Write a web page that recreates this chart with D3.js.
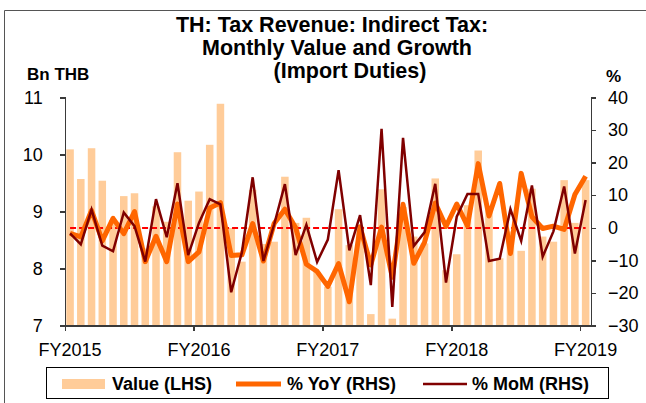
<!DOCTYPE html>
<meta charset="utf-8">
<head>
<title>TH Import Duties</title>
<script src="https://d3js.org/d3.v7.min.js"></script>
<style>
  body { margin: 0; background: #fff; }
  svg text { font-family: "Liberation Sans", Arial, sans-serif; fill: #000; }
  .axis path, .axis line { stroke: #3a3a3a; stroke-width: 1.3; shape-rendering: crispEdges; }
</style>
</head>
<body>
<div id="chart"></div>
<script>

// fiscal year labels (each tick = first month of FY)
var fyLabels = ["FY2015", "FY2016", "FY2017", "FY2018", "FY2019"];

// monthly value, Bn THB (Oct 2014 .. Oct 2018)
var valueLHS = [10.09, 9.57, 10.11, 9.54, 8.85, 9.27, 9.32, 8.35, 9.09, 8.82, 10.04, 9.19,
                9.35, 10.17, 10.89, 8.71, 8.12, 9.38, 8.43, 8.47, 9.61, 8.80, 8.89, 7.94,
                7.68, 9.04, 8.41, 8.74, 7.20, 9.39, 7.12, 9.08, 8.56, 8.44, 9.58, 7.97,
                8.25, 9.11, 10.07, 9.04, 8.18, 8.65, 8.31, 9.40, 8.56, 8.47, 9.55, 8.80, 9.55];

// % YoY
var yoyRHS = [-1.7, -2.8, 5.3, -4.0, 2.9, -1.8, 5.0, -10.4, -2.6, -10.4, 7.3, -10.4,
              -7.4, 6.1, 7.7, -8.5, -8.3, 1.3, -10.2, 1.3, 5.7, 0.0, -11.2, -13.4,
              -18.0, -11.0, -22.7, 0.3, -11.4, 0.2, -15.2, 7.2, -10.9, -4.5, 7.6, 0.4,
              7.3, 0.6, 19.7, 3.6, 13.6, -7.9, 16.7, 3.4, -0.2, 0.5, -0.5, 10.2, 15.8];

// % MoM
var momRHS = [-1.7, -5.1, 5.6, -5.5, -7.2, 4.7, 0.5, -10.4, 8.8, -2.9, 13.7, -8.4,
              1.5, 8.8, 7.2, -19.8, -7.5, 15.5, -10.2, 1.0, 13.4, -8.4, 0.9, -10.5,
              -3.6, 17.7, -6.9, 3.9, -17.6, 30.4, -24.3, 27.6, -5.6, -1.4, 13.5, -16.8,
              3.4, 10.4, 10.4, -10.2, -9.5, 5.7, -4.0, 13.0, -8.9, -1.1, 12.7, -7.9, 8.5];

var leftTicks = [7, 8, 9, 10, 11];
var rightTicks = [-30, -20, -10, 0, 10, 20, 30, 40];

var W = 646, H = 403;
var plotL = 64.7, plotR = 591, plotT = 97.5, plotB = 325.5;

var svg = d3.select("#chart").append("svg")
    .attr("width", W)
    .attr("height", H);

// outer frame (only top and left edges are inside the picture)
svg.append("path")
    .attr("d", "M4.5," + H + "V10.5H" + W)
    .attr("fill", "none")
    .attr("stroke", "#555")
    .attr("stroke-width", 1);

var months = d3.range(valueLHS.length);

var x = d3.scaleBand()
    .domain(months)
    .range([plotL, plotR])
    .paddingInner(0.3)
    .paddingOuter(0.15);

// continuous helper for the FY tick marks (band edges)
var xEdge = d3.scaleLinear().domain([0, months.length]).range([plotL, plotR]);

var yL = d3.scaleLinear().domain([7, 11]).range([plotB, plotT]);
var yR = d3.scaleLinear().domain([-30, 40]).range([plotB, plotT]);

// bars
svg.append("g").selectAll("rect")
    .data(valueLHS)
    .enter().append("rect")
      .attr("x", function(d, i) { return x(i); })
      .attr("y", function(d) { return yL(d); })
      .attr("width", x.bandwidth())
      .attr("height", function(d) { return plotB - yL(d); })
      .attr("fill", "#ffcc99");

function cx(i) { return x(i) + x.bandwidth() / 2; }

// zero line
svg.append("line")
    .attr("x1", cx(0)).attr("x2", cx(months.length - 1))
    .attr("y1", Math.round(yR(0))).attr("y2", Math.round(yR(0)))
    .attr("stroke", "#ff0000")
    .attr("stroke-width", 2)
    .attr("stroke-dasharray", "6,3");

var line = d3.line()
    .x(function(d, i) { return cx(i); })
    .y(function(d) { return yR(d); });

svg.append("path")
    .datum(yoyRHS)
    .attr("d", line)
    .attr("fill", "none")
    .attr("stroke", "#ff6600")
    .attr("stroke-width", 5)
    .attr("stroke-linejoin", "round");

svg.append("path")
    .datum(momRHS)
    .attr("d", line)
    .attr("fill", "none")
    .attr("stroke", "#800000")
    .attr("stroke-width", 2.5)
    .attr("stroke-linejoin", "miter");

// axes
svg.append("g")
    .attr("class", "axis")
    .attr("transform", "translate(" + plotL + ",0)")
    .call(d3.axisLeft(yL).tickValues(leftTicks).tickSize(5).tickPadding(17).tickFormat(d3.format("d")));

svg.append("g")
    .attr("class", "axis")
    .attr("transform", "translate(" + plotR + ",0)")
    .call(d3.axisRight(yR).tickValues(rightTicks).tickSize(5).tickPadding(12).tickFormat(d3.format("d")));

svg.append("g")
    .attr("class", "axis")
    .attr("transform", "translate(0," + plotB + ")")
    .call(d3.axisBottom(xEdge).tickValues([0, 12, 24, 36, 48]).tickSize(5).tickSizeOuter(0).tickFormat(""));

svg.selectAll(".axis text")
    .attr("font-size", 18)
    .attr("font-family", "'Liberation Sans', Arial, sans-serif");

// FY labels centered on first month of each FY
svg.append("g").selectAll("text")
    .data(fyLabels)
    .enter().append("text")
      .attr("x", function(d, i) { return cx(i * 12); })
      .attr("y", 356)
      .attr("text-anchor", "middle")
      .style("font-size", "18px")
      .text(function(d) { return d; });

// titles
var titleLines = [
  {t: "TH: Tax Revenue: Indirect Tax:", x: 332, y: 32},
  {t: "Monthly Value and Growth", x: 337, y: 55},
  {t: "(Import Duties)", x: 350, y: 78}
];
svg.append("g").selectAll("text")
    .data(titleLines)
    .enter().append("text")
      .attr("x", function(d) { return d.x; })
      .attr("y", function(d) { return d.y; })
      .attr("text-anchor", "middle")
      .style("font-size", "21.5px")
      .style("font-weight", "bold")
      .text(function(d) { return d.t; });

svg.append("text")
    .attr("x", 27).attr("y", 80)
    .style("font-size", "17px").style("font-weight", "bold")
    .text("Bn THB");

svg.append("text")
    .attr("x", 606).attr("y", 82)
    .style("font-size", "17px").style("font-weight", "bold")
    .text("%");

// legend
var lg = svg.append("g");
lg.append("rect")
    .attr("x", 46.5).attr("y", 367.5)
    .attr("width", 562).attr("height", 31)
    .attr("fill", "#fff").attr("stroke", "#000").attr("stroke-width", 1);

lg.append("rect")
    .attr("x", 62).attr("y", 379).attr("width", 43).attr("height", 10)
    .attr("fill", "#ffcc99");
lg.append("text").attr("x", 112).attr("y", 390)
    .style("font-size", "18px").style("font-weight", "bold").text("Value (LHS)");

lg.append("line")
    .attr("x1", 236).attr("x2", 281).attr("y1", 384).attr("y2", 384)
    .attr("stroke", "#ff6600").attr("stroke-width", 5);
lg.append("text").attr("x", 287).attr("y", 390)
    .style("font-size", "18px").style("font-weight", "bold").text("% YoY (RHS)");

lg.append("line")
    .attr("x1", 423).attr("x2", 467).attr("y1", 384).attr("y2", 384)
    .attr("stroke", "#800000").attr("stroke-width", 2.5);
lg.append("text").attr("x", 472).attr("y", 390)
    .style("font-size", "18px").style("font-weight", "bold").text("% MoM (RHS)");

</script>
</body>
</html>
